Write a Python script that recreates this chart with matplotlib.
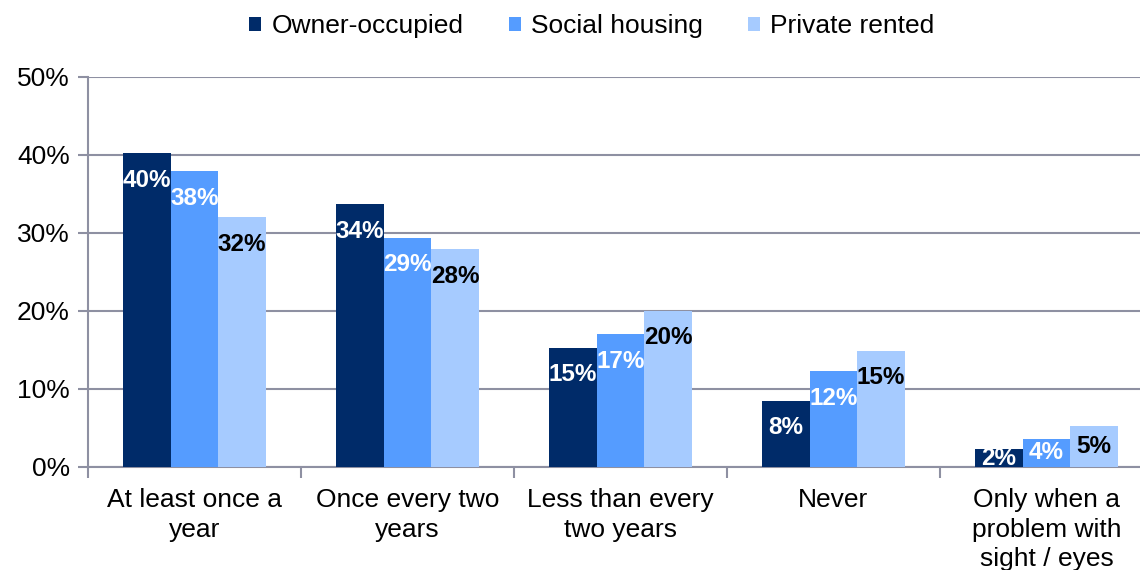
import matplotlib.pyplot as plt
from matplotlib.patches import Patch
import numpy as np

plt.rcParams['font.family'] = ['Liberation Sans', 'DejaVu Sans']

categories = ['At least once a\nyear', 'Once every two\nyears', 'Less than every\ntwo years',
              'Never', 'Only when a\nproblem with\nsight / eyes']
series = ['Owner-occupied', 'Social housing', 'Private rented']
owner = [40.2, 33.7, 15.3, 8.5, 2.3]
social = [37.9, 29.4, 17.0, 12.3, 3.6]
private = [32.0, 27.9, 20.0, 14.9, 5.3]
labels_owner = ['40%', '34%', '15%', '8%', '2%']
labels_social = ['38%', '29%', '17%', '12%', '4%']
labels_private = ['32%', '28%', '20%', '15%', '5%']

colors = ['#002B69', '#559CFF', '#A6CBFF']
label_colors = ['white', 'white', 'black']

fig = plt.figure(figsize=(11.4, 5.7), dpi=100)
ax = fig.add_axes([88 / 1140, 1 - 467 / 570, 1065 / 1140, 390 / 570])

x = np.arange(len(categories))
w = 0.223
data = [owner, social, private]
labs = [labels_owner, labels_social, labels_private]

for i in range(3):
    xs = x + (i - 1) * w
    ax.bar(xs, data[i], width=w, color=colors[i], zorder=3)
    for xi, v, t in zip(xs, data[i], labs[i]):
        yc = max(v - 3.46, v / 2)
        ax.text(xi, yc, t, ha='center', va='center', fontsize=17.5,
                fontweight='bold', color=label_colors[i], zorder=4)

ax.set_xlim(-0.5, 4.5)
ax.set_ylim(0, 50)
ax.set_yticks(range(0, 51, 10))
ax.set_yticklabels([f'{v}%' for v in range(0, 51, 10)], fontsize=19)
ax.yaxis.grid(True, color='#8E90A2', linewidth=1.5, zorder=0)

ax.set_xticks(x)
ax.set_xticklabels(categories, fontsize=19, linespacing=1.3)
ax.tick_params(axis='x', which='major', length=0, pad=15)
ax.set_xticks(np.arange(-0.5, 5, 1), minor=True)
ax.tick_params(axis='x', which='minor', length=8, color='#8E90A2', width=1.5)
ax.tick_params(axis='y', length=7, color='#8E90A2', width=1.5, pad=6)

for s in ['top', 'right']:
    ax.spines[s].set_visible(False)
for s in ['left', 'bottom']:
    ax.spines[s].set_color('#8E90A2')
    ax.spines[s].set_linewidth(1.5)

handles = [Patch(facecolor=c) for c in colors]
fig.legend(handles, series, loc='center', bbox_to_anchor=(592 / 1140, 1 - 26 / 570),
           ncol=3, frameon=False, fontsize=19, handlelength=0.45, handleheight=0.45,
           handletextpad=0.4, columnspacing=1.7)

fig.savefig('out.png', dpi=100)
